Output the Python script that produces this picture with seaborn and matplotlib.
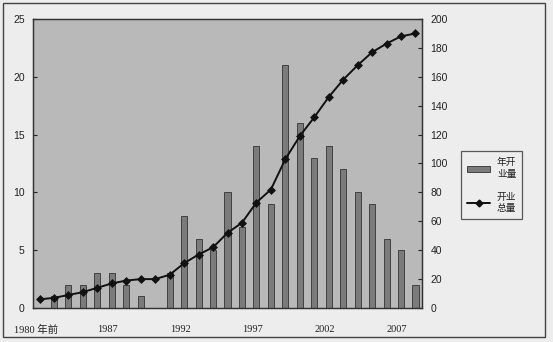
import matplotlib
matplotlib.use("Agg")
import matplotlib.pyplot as plt
import matplotlib.transforms as mtransforms
from matplotlib.patches import Rectangle, Patch
from matplotlib.lines import Line2D
import seaborn as sns
import pandas as pd

sns.set_theme(style="white")
plt.rcParams['font.family'] = ['Liberation Sans', 'Noto Sans CJK SC', 'DejaVu Sans']

categories = ["1980年前"] + [str(y) for y in range(1983, 2009)]
annual = [0, 1, 2, 2, 3, 3, 2, 1, 0, 3, 8, 6, 5, 10, 7, 14, 9, 21, 16, 13, 14, 12, 10, 9, 6, 5, 2]
total = [6, 7, 9, 11, 14, 17, 19, 20, 20, 23, 31, 37, 42, 52, 59, 73, 82, 103, 119, 132, 146, 158, 168, 177, 183, 188, 190]
tick_idx = [0, 5, 10, 15, 20, 25]
tick_labels = ["1980 年前", "1987", "1992", "1997", "2002", "2007"]
label_bar = "年开\n业量"
label_line = "开业\n总量"

df = pd.DataFrame({"cat": categories, "annual": annual, "total": total})

fig = plt.figure(figsize=(5.53, 3.42), dpi=100)
fig.patch.set_facecolor("#ededed")
ax = fig.add_axes([33/553, 1-308/342, (422-33)/553, (308-19)/342])
ax.set_facecolor("#b9b9b9")

sns.barplot(data=df, x="cat", y="annual", ax=ax, color="#7b7b7b",
            edgecolor="#333333", linewidth=0.6, width=0.42, saturation=1)
ax.set_ylim(0, 25)
ax.set_yticks(range(0, 26, 5))
ax.set_xlim(-0.45, len(categories) - 0.55)

ax2 = ax.twinx()
sns.pointplot(data=df, x="cat", y="total", ax=ax2, color="#111111",
              markers="D", markersize=3.5, linewidth=1.4)
ax2.set_ylim(0, 200)
ax2.set_yticks(range(0, 201, 20))
ax2.set_xlim(-0.45, len(categories) - 0.55)

for a in (ax, ax2):
    a.set_xlabel("")
    a.set_ylabel("")
    for s in a.spines.values():
        s.set_color("#333333")
        s.set_linewidth(0.9)

ax.tick_params(axis="y", direction="in", length=3, width=0.8, pad=6,
               labelsize=7.5, colors="#222222", left=True)
ax2.tick_params(axis="y", direction="in", length=3, width=0.8, pad=6,
                labelsize=7.5, colors="#222222", right=True)

ax.set_xticks(tick_idx)
ax.set_xticklabels(tick_labels, family=['Liberation Serif', 'Noto Sans CJK SC'],
                   fontsize=7.5, color="#222222")
ax.tick_params(axis="x", length=0, pad=12)
offset = mtransforms.ScaledTranslation(-4/100, 0, fig.dpi_scale_trans)
for lbl in ax.get_xticklabels():
    lbl.set_transform(lbl.get_transform() + offset)

handles = [Patch(facecolor="#7b7b7b", edgecolor="#333333", linewidth=0.6),
           Line2D([], [], color="#111111", marker="D", markersize=3.5, linewidth=1.4)]
leg = fig.legend(handles, [label_bar, label_line], loc="lower left",
                 bbox_to_anchor=(461/553, 1-219/342), frameon=True,
                 borderaxespad=0,
                 handlelength=2.4, handleheight=0.6, handletextpad=0.7,
                 labelspacing=1.3, borderpad=0.6, fancybox=False,
                 prop={'family': ['Noto Sans CJK SC'], 'size': 7})
for t in leg.get_texts():
    t.set_multialignment("left")
    t.set_color("#222222")
leg.get_frame().set_edgecolor("#333333")
leg.get_frame().set_facecolor("#ededed")
leg.get_frame().set_linewidth(0.9)

fig.patches.append(Rectangle((3/553, 5/342), (545-3)/553, (339-5)/342,
                             transform=fig.transFigure, fill=False,
                             edgecolor="#444444", linewidth=1.0))

fig.savefig("out.png", dpi=100, facecolor=fig.get_facecolor())
